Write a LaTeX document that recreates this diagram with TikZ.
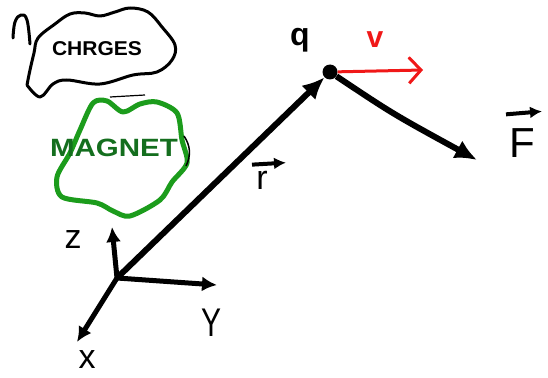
\documentclass[tikz,border=0pt]{standalone}
\usepackage{fontspec}
\setmainfont{Liberation Sans}
\setsansfont{Liberation Sans}
\usetikzlibrary{arrows.meta}
\definecolor{ink}{HTML}{000000}
\definecolor{magnetgreen}{HTML}{1C9C1C}
\definecolor{magnettext}{HTML}{146E1E}
\definecolor{velred}{HTML}{F01818}
\tikzset{
  every node/.style={font=\sffamily, text=ink, inner sep=0pt},
  vecarr/.style={-{Latex[length=22pt, width=20pt]}, line width=6pt, draw=ink},
  axisarr/.style={-{Latex[length=15pt, width=15pt]}, line width=5pt, draw=ink},
  velarr/.style={-{Straight Barb[length=12pt, width=26pt, line width=3pt]}, line width=3pt, draw=velred},
  lblarr/.style={-{Latex[length=12pt, width=12pt]}, line width=4pt, draw=ink},
  hand/.style={font=\sffamily\fontsize{34}{34}\selectfont},
  outline/.style={draw=ink, line width=3pt, line cap=round, line join=round},
  blob/.style={draw=magnetgreen, line width=5pt, line join=round},
  charge/.style={circle, fill=ink, minimum size=15pt},
}

\begin{document}
\begin{tikzpicture}[x=1pt, y=-1pt]
\useasboundingbox (0,0) rectangle (548,377);

% charges cloud
\draw[outline] plot[smooth, tension=0.6] coordinates {(27,85) (40,97) (53,84) (67,80) (100,84) (133,75) (157,72) (172,60) (175,45) (162,27) (148,12) (130,8) (115,12) (100,16) (85,13) (70,14) (55,24) (38,38) (34,53) (30,70) (27,85)};
\draw[outline] plot[smooth, tension=0.7] coordinates {(13,38) (15,22) (21,15) (27,20) (30,44)};
\node[font=\sffamily\bfseries\fontsize{20}{20}\selectfont, xscale=1.05] (chg) at (97,49) {CHRGES};

% magnet
\draw[blob] plot[smooth cycle, tension=0.5] coordinates {(93,103) (107,101) (123,112) (140,104) (157,102) (177,113) (182,140) (187,163) (172,182) (160,200) (130,216) (113,211) (97,203) (62,197) (57,177) (70,153) (80,130)};
\draw[ink, line width=1.2pt] (110,97) -- (145,95);
\draw[ink, line width=1.5pt] (184,136) to[bend left=30] (186,166);
\node[font=\sffamily\bfseries\fontsize{25}{25}\selectfont, text=magnettext, xscale=1.18] (mag) at (114,148) {MAGNET};

% axes
\coordinate (o) at (117,278);
\coordinate (zend) at (112,227);
\coordinate (yend) at (217,285);
\coordinate (xend) at (77,342);
\draw[axisarr] (o) -- (zend);
\draw[axisarr] (o) -- (yend);
\draw[axisarr] (o) -- (xend);
\node[hand] (zlbl) at (73,240) {z};
\node[hand, font=\sffamily\fontsize{40}{40}\selectfont, xscale=0.75] (ylbl) at (212,323) {Y};
\node[hand] (xlbl) at (87,360) {x};

% charge and vectors
\node[charge] (q) at (330,72) {};
\node[hand, font=\sffamily\bfseries\fontsize{32}{32}\selectfont] (qlbl) at (300,40) {q};
\draw[vecarr] (o) -- (q);
\coordinate (vend) at (423,70);
\draw[velarr] (q) -- (vend);
\node[hand, font=\sffamily\bfseries\fontsize{30}{30}\selectfont, text=velred] (vlbl) at (375,40) {v};
\coordinate (fend) at (477,160);
\draw[vecarr] (q) .. controls (393,114) .. (fend);

% labels with arrows
\node[hand] (rlbl) at (262,180) {r};
\draw[lblarr] ([xshift=-10pt, yshift=6pt]rlbl.north) -- ([xshift=24pt, yshift=8pt]rlbl.north);
\node[hand, font=\sffamily\fontsize{42}{42}\selectfont] (flbl) at (522,143) {F};
\draw[lblarr] ([xshift=-16pt, yshift=14pt]flbl.north) -- ([xshift=20pt, yshift=17pt]flbl.north);

\end{tikzpicture}
\end{document}
